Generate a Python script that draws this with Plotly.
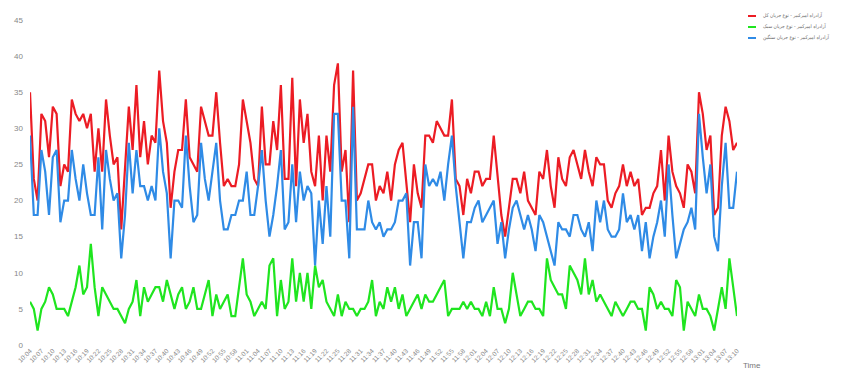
import pandas as pd
import plotly.graph_objects as go

# One reading per minute, 10:04 to 13:10
times = pd.date_range("2000-01-01 10:04", periods=187, freq="min").strftime("%H:%M").tolist()
tick_labels = times[::3]

series_names = [
    "آزادراه امیرکبیر - نوع جریان کل",
    "آزادراه امیرکبیر - نوع جریان سبک",
    "آزادراه امیرکبیر - نوع جریان سنگین",
]

total_flow = [
    35, 23, 20, 32, 31, 26, 33, 32, 22, 25,
    24, 34, 32, 31, 32, 30, 32, 24, 30, 24,
    34, 29, 25, 26, 16, 24, 33, 27, 36, 26,
    31, 25, 29, 28, 38, 31, 28, 19, 24, 27,
    27, 34, 26, 25, 24, 33, 31, 29, 29, 35,
    28, 22, 23, 22, 22, 25, 34, 31, 28, 23,
    22, 33, 25, 25, 31, 27, 36, 23, 23, 37,
    22, 34, 28, 32, 24, 22, 29, 20, 29, 24,
    36, 39, 24, 27, 17, 38, 20, 21, 23, 25,
    25, 20, 22, 21, 24, 20, 25, 27, 28, 22,
    17, 25, 21, 19, 29, 29, 28, 31, 30, 29,
    29, 34, 23, 22, 18, 23, 21, 24, 24, 22,
    23, 23, 29, 23, 18, 15, 19, 23, 23, 21,
    24, 20, 19, 18, 24, 23, 27, 22, 19, 26,
    23, 22, 26, 27, 25, 23, 27, 24, 22, 26,
    25, 25, 20, 19, 21, 22, 25, 22, 24, 22,
    23, 18, 19, 19, 21, 22, 27, 20, 29, 24,
    22, 21, 19, 25, 24, 21, 35, 32, 27, 29,
    18, 19, 29, 33, 31, 27, 28,
]

light_flow = [
    6, 5, 2, 5, 6, 8, 7, 5, 5, 5,
    4, 6, 8, 11, 7, 8, 14, 8, 4, 8,
    7, 6, 5, 5, 4, 3, 5, 6, 9, 4,
    8, 6, 7, 8, 8, 6, 9, 7, 5, 7,
    8, 5, 6, 8, 5, 5, 7, 9, 4, 7,
    5, 6, 7, 4, 4, 8, 12, 7, 6, 4,
    5, 6, 5, 11, 12, 4, 9, 5, 6, 12,
    6, 10, 6, 10, 5, 11, 8, 9, 6, 5,
    4, 7, 4, 6, 5, 5, 4, 5, 5, 6,
    9, 4, 6, 5, 8, 6, 8, 5, 7, 4,
    5, 6, 7, 5, 7, 6, 6, 7, 8, 9,
    4, 5, 5, 5, 6, 5, 6, 5, 5, 4,
    6, 4, 8, 5, 5, 3, 5, 10, 7, 4,
    5, 6, 6, 5, 5, 4, 12, 9, 8, 7,
    7, 5, 11, 10, 9, 7, 12, 7, 9, 6,
    7, 6, 5, 4, 6, 5, 4, 5, 6, 6,
    5, 5, 2, 8, 7, 5, 6, 5, 5, 4,
    9, 8, 2, 6, 5, 4, 7, 5, 5, 4,
    2, 5, 8, 5, 12, 8, 4,
]

heavy_flow = [
    29, 18, 18, 27, 24, 18, 26, 27, 17, 20,
    20, 27, 23, 20, 25, 21, 18, 18, 26, 16,
    27, 23, 20, 21, 12, 18, 28, 21, 27, 22,
    22, 20, 22, 20, 30, 24, 21, 12, 20, 20,
    19, 29, 22, 17, 18, 28, 23, 20, 24, 28,
    20, 16, 16, 18, 18, 20, 20, 24, 18, 18,
    22, 27, 20, 15, 18, 22, 27, 16, 17, 25,
    17, 24, 20, 22, 21, 11, 20, 14, 22, 15,
    32, 32, 20, 20, 12, 33, 16, 16, 16, 20,
    17, 16, 17, 15, 16, 16, 17, 20, 20, 21,
    11, 17, 17, 12, 25, 22, 23, 22, 24, 20,
    25, 29, 22, 17, 12, 17, 17, 19, 20, 17,
    18, 19, 20, 14, 17, 12, 16, 19, 20, 18,
    16, 18, 16, 13, 18, 17, 15, 13, 11, 17,
    16, 16, 15, 18, 18, 16, 15, 17, 13, 20,
    17, 20, 16, 15, 15, 16, 21, 17, 18, 16,
    18, 13, 17, 12, 15, 17, 20, 15, 25, 18,
    12, 14, 16, 17, 19, 16, 32, 26, 21, 25,
    15, 13, 22, 28, 19, 19, 24,
]

colors = ["#ec1c24", "#1fe51f", "#2f8be6"]
y_ticks = list(range(0, 50, 5))

# Plot-area geometry in pixels (used to place the legend in paper units)
W, H = 852, 371
ML, MR, MT, MB = 30, 115, 20, 26
PW, PH = W - ML - MR, H - MT - MB


def px_to_paper(px, py):
    return (px - ML) / PW, (H - MB - py) / PH


fig = go.Figure()
for name, ys, col in zip(series_names, [total_flow, light_flow, heavy_flow], colors):
    fig.add_trace(go.Scatter(
        x=times, y=ys, name=name, mode="lines",
        line=dict(color=col, width=2.2), showlegend=False,
    ))

# Compact legend: short colour dash + label, top right
shapes, annotations = [], []
for k, (name, col) in enumerate(zip(series_names, colors)):
    py = 16 + k * 11
    x0, yp = px_to_paper(748, py)
    x1, _ = px_to_paper(756, py)
    shapes.append(dict(type="line", xref="paper", yref="paper",
                       x0=x0, x1=x1, y0=yp, y1=yp,
                       line=dict(color=col, width=2)))
    tx, _ = px_to_paper(761, py)
    annotations.append(dict(xref="paper", yref="paper", x=tx, y=yp,
                            xanchor="left", yanchor="middle", showarrow=False,
                            text=name, font=dict(size=5, color="#666",
                                                 family="DejaVu Sans Condensed, DejaVu Sans")))

tx, ty = px_to_paper(752, 365)
annotations.append(dict(xref="paper", yref="paper", x=tx, y=ty,
                        xanchor="center", yanchor="middle", showarrow=False,
                        text="Time", font=dict(size=8, color="#777",
                                               family="Liberation Sans")))

fig.update_layout(
    width=W, height=H,
    margin=dict(l=ML, r=MR, t=MT, b=MB),
    paper_bgcolor="white", plot_bgcolor="white",
    font=dict(family="Liberation Sans", color="#888"),
    shapes=shapes, annotations=annotations,
    xaxis=dict(
        type="category", range=[0, len(times) - 1],
        tickmode="array", tickvals=tick_labels, ticktext=tick_labels,
        tickangle=-45, tickfont=dict(size=6.5, color="#888"),
        showgrid=False, zeroline=False, showline=False, automargin=False,
    ),
    yaxis=dict(
        range=[0, 45], tickvals=y_ticks,
        tickfont=dict(size=8, color="#888"), ticklabelstandoff=6,
        showgrid=False, zeroline=False, showline=False, automargin=False,
    ),
)

fig.write_html("out.html")
